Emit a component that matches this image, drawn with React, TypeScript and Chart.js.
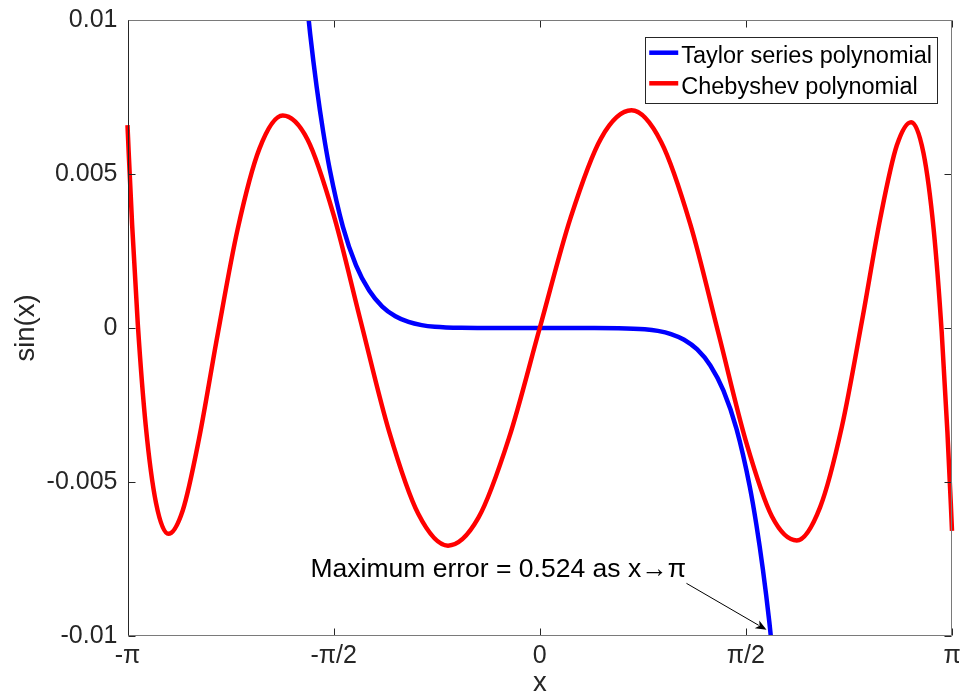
import React, { useEffect, useRef } from "react";
import { Chart, registerables } from "chart.js";

Chart.register(...registerables);

// ---------- data ----------
const xTickValues = [-Math.PI, -Math.PI / 2, 0, Math.PI / 2, Math.PI];
const xTickLabels = ["-π", "-π/2", "0", "π/2", "π"];
const yTickValues = [-0.01, -0.005, 0, 0.005, 0.01];
const yTickLabels = ["-0.01", "-0.005", "0", "0.005", "0.01"];

const seriesLabels = ["Taylor series polynomial", "Chebyshev polynomial"];

// Taylor-series polynomial error curve
const taylorX = [
  -1.85, -1.8, -1.75, -1.7, -1.65, -1.6, -1.5, -1.4, -1.3, -1.2, -1.1, -1.0, -0.9, -0.8, -0.6, -0.4, -0.2,
  0,
  0.2, 0.4, 0.6, 0.8, 0.9, 1.0, 1.1, 1.2, 1.3, 1.4, 1.5, 1.6, 1.65, 1.7, 1.75, 1.8, 1.85,
];
const taylorY = [
  0.014038, 0.011617, 0.009561, 0.007824, 0.006363, 0.005141, 0.003286, 0.002036, 0.001216, 0.000697, 0.00038,
  0.000196, 0.000094, 0.000041, 0.0000055, 0.0000003, 0,
  0,
  0, -0.0000003, -0.0000055, -0.000041, -0.000094, -0.000196, -0.00038, -0.000697, -0.001216, -0.002036,
  -0.003286, -0.005141, -0.006363, -0.007824, -0.009561, -0.011617, -0.014038,
];

// Chebyshev polynomial error curve
const chebX = [
  -3.14159, -3.1328, -3.10649, -3.06283, -3.00201, -2.92441, -2.83049, -2.7207, -2.5957, -2.45618, -2.30293,
  -2.13681, -1.95875, -1.76972, -1.5708, -1.36307, -1.14775, -0.92602, -0.69906, -0.46822, -0.23477,
  0,
  0.23477, 0.46822, 0.69906, 0.92602, 1.14775, 1.36307, 1.5708, 1.76972, 1.95875, 2.13681, 2.30293, 2.45618,
  2.5957, 2.7207, 2.83049, 2.92441, 3.00201, 3.06283, 3.10649, 3.1328, 3.14159,
];
const chebY = [
  0.006589, 0.005727, 0.003364, 0.000109, -0.003194, -0.005678, -0.006684, -0.005923, -0.003577, -0.000245,
  0.003194, 0.005814, 0.006896, 0.006119, 0.003671, 0.000196, -0.003364, -0.006032, -0.007066, -0.006168,
  -0.003577,
  0,
  0.003577, 0.006168, 0.007066, 0.006032, 0.003364, -0.000196, -0.003671, -0.006119, -0.006896, -0.005814,
  -0.003194, 0.000245, 0.003577, 0.005923, 0.006684, 0.005678, 0.003194, -0.000109, -0.003364, -0.005727,
  -0.006589,
];

// annotation (text anchor and arrow in data units)
const annotationText = "Maximum error = 0.524 as x→π";
const annotationAnchor = { x: -1.747, y: -0.00808 };
const arrowFrom = { x: 1.118, y: -0.00829 };
const arrowTo = { x: 1.728, y: -0.0098 };

const FONT = "'Liberation Sans', Arial, Helvetica, sans-serif";
const AXIS_COLOR = "#262626";

const labelFor = (values: number[], labels: string[], v: number) => {
  for (let i = 0; i < values.length; i++) if (Math.abs(values[i] - v) < 1e-9) return labels[i];
  return "";
};

const framePlugin = {
  id: "frame",
  afterDatasetsDraw(chart: any) {
    const { ctx, chartArea: a, scales } = chart;
    const L = Math.round(a.left) + 0.5;
    const R = Math.round(a.right) - 0.5;
    const T = Math.round(a.top) + 0.5;
    const B = Math.round(a.bottom) - 0.5;
    ctx.save();
    ctx.lineWidth = 1;
    // ticks (inward, all four sides)
    ctx.strokeStyle = AXIS_COLOR;
    const tl = 7;
    ctx.beginPath();
    xTickValues.forEach((v) => {
      const px = Math.round(scales.x.getPixelForValue(v)) + 0.5;
      ctx.moveTo(px, B);
      ctx.lineTo(px, B - tl);
      ctx.moveTo(px, T);
      ctx.lineTo(px, T + tl);
    });
    yTickValues.forEach((v) => {
      const py = Math.round(scales.y.getPixelForValue(v)) + 0.5;
      ctx.moveTo(L, py);
      ctx.lineTo(L + tl, py);
      ctx.moveTo(R, py);
      ctx.lineTo(R - tl, py);
    });
    ctx.stroke();
    // box
    ctx.strokeStyle = "#7a7a7a";
    ctx.beginPath();
    ctx.moveTo(L, T);
    ctx.lineTo(R, T);
    ctx.lineTo(R, B);
    ctx.lineTo(L, B);
    ctx.stroke();
    ctx.strokeStyle = AXIS_COLOR;
    ctx.beginPath();
    ctx.moveTo(L, T);
    ctx.lineTo(L, B);
    ctx.stroke();
    ctx.restore();
  },
  afterDraw(chart: any) {
    const { ctx, chartArea: a, scales } = chart;
    ctx.save();
    // ---- legend ----
    const fs = 23.5;
    ctx.font = `${fs}px ${FONT}`;
    const ds = chart.data.datasets;
    let tw = 0;
    ds.forEach((d: any) => (tw = Math.max(tw, ctx.measureText(d.label).width)));
    const w = 36 + tw + 5;
    const h = 65.5;
    const right = a.right - 15;
    const left = right - w;
    const top = a.top + 16.5;
    ctx.fillStyle = "#ffffff";
    ctx.fillRect(left, top, w, h);
    ctx.strokeStyle = AXIS_COLOR;
    ctx.lineWidth = 1;
    ctx.strokeRect(Math.round(left) + 0.5, Math.round(top) + 0.5, Math.round(w), Math.round(h));
    ds.forEach((d: any, i: number) => {
      const ly = top + 16.2 + i * 30.6;
      ctx.strokeStyle = d.borderColor;
      ctx.lineWidth = 4.5;
      ctx.beginPath();
      ctx.moveTo(left + 4, ly);
      ctx.lineTo(left + 33, ly);
      ctx.stroke();
      ctx.fillStyle = "#000000";
      ctx.textAlign = "left";
      ctx.textBaseline = "alphabetic";
      ctx.fillText(d.label, left + 36, ly + 10.6);
    });
    // ---- annotation ----
    ctx.font = `26.5px ${FONT}`;
    ctx.fillStyle = "#000000";
    ctx.textAlign = "left";
    ctx.textBaseline = "alphabetic";
    ctx.fillText(
      annotationText,
      scales.x.getPixelForValue(annotationAnchor.x),
      scales.y.getPixelForValue(annotationAnchor.y)
    );
    const x0 = scales.x.getPixelForValue(arrowFrom.x);
    const y0 = scales.y.getPixelForValue(arrowFrom.y);
    const x1 = scales.x.getPixelForValue(arrowTo.x);
    const y1 = scales.y.getPixelForValue(arrowTo.y);
    const ang = Math.atan2(y1 - y0, x1 - x0);
    const hl = 11;
    const hw = 4.5;
    const bx = x1 - hl * Math.cos(ang);
    const by = y1 - hl * Math.sin(ang);
    ctx.strokeStyle = "#000000";
    ctx.lineWidth = 1;
    ctx.beginPath();
    ctx.moveTo(x0, y0);
    ctx.lineTo(bx + 2 * Math.cos(ang), by + 2 * Math.sin(ang));
    ctx.stroke();
    ctx.fillStyle = "#000000";
    ctx.beginPath();
    ctx.moveTo(x1, y1);
    ctx.lineTo(bx - hw * Math.sin(ang), by + hw * Math.cos(ang));
    ctx.lineTo(bx + 3 * Math.cos(ang), by + 3 * Math.sin(ang));
    ctx.lineTo(bx + hw * Math.sin(ang), by - hw * Math.cos(ang));
    ctx.closePath();
    ctx.fill();
    ctx.restore();
  },
};

export default function App() {
  const canvasRef = useRef<HTMLCanvasElement | null>(null);

  useEffect(() => {
    const canvas = canvasRef.current;
    if (!canvas) return;
    const chart = new Chart(canvas, {
      type: "line",
      data: {
        datasets: [
          {
            label: seriesLabels[0],
            data: taylorX.map((x, i) => ({ x, y: taylorY[i] })),
            borderColor: "#0000ff",
            backgroundColor: "#0000ff",
            borderWidth: 4.5,
            pointRadius: 0,
            fill: false,
            cubicInterpolationMode: "monotone",
            order: 1,
            clip: { left: 0, right: 0, top: 0, bottom: 0 },
          },
          {
            label: seriesLabels[1],
            data: chebX.map((x, i) => ({ x, y: chebY[i] })),
            borderColor: "#ff0000",
            backgroundColor: "#ff0000",
            borderWidth: 4.5,
            pointRadius: 0,
            fill: false,
            cubicInterpolationMode: "monotone",
            order: 0,
            clip: { left: 3, right: 3, top: 0, bottom: 0 },
          },
        ],
      } as any,
      options: {
        animation: false,
        responsive: false,
        maintainAspectRatio: false,
        layout: { padding: { left: 0, right: 9, top: 20, bottom: 0 } },
        plugins: {
          legend: { display: false },
          tooltip: { enabled: false },
        },
        scales: {
          x: {
            type: "linear",
            min: -Math.PI,
            max: Math.PI,
            afterBuildTicks: (s: any) => {
              s.ticks = xTickValues.map((v) => ({ value: v }));
            },
            afterFit: (s: any) => {
              s.height = 60;
              s.paddingLeft = 0;
              s.paddingRight = 0;
              s.paddingTop = 0;
              s.paddingBottom = 0;
            },
            grid: { display: false, drawTicks: false },
            border: { display: false },
            ticks: {
              autoSkip: false,
              maxRotation: 0,
              padding: 5,
              color: AXIS_COLOR,
              font: { family: FONT, size: 25 },
              callback: (v: any) => labelFor(xTickValues, xTickLabels, Number(v)),
            },
            title: {
              display: true,
              text: "x",
              color: AXIS_COLOR,
              font: { family: FONT, size: 27.5, lineHeight: 0.94 },
              padding: { top: 0, bottom: 0 },
            },
          },
          y: {
            type: "linear",
            min: -0.01,
            max: 0.01,
            afterBuildTicks: (s: any) => {
              s.ticks = yTickValues.map((v) => ({ value: v }));
            },
            afterFit: (s: any) => {
              s.width = 127.5;
              s.paddingLeft = 0;
              s.paddingRight = 0;
              s.paddingTop = 0;
              s.paddingBottom = 0;
            },
            grid: { display: false, drawTicks: false },
            border: { display: false },
            ticks: {
              autoSkip: false,
              padding: 10,
              color: AXIS_COLOR,
              font: { family: FONT, size: 25 },
              callback: (v: any) => labelFor(yTickValues, yTickLabels, Number(v)),
            },
            title: {
              display: true,
              text: "sin(x)",
              color: AXIS_COLOR,
              font: { family: FONT, size: 27.5, lineHeight: 1.2 },
              padding: { top: 10, bottom: 0 },
            },
          },
        },
      } as any,
      plugins: [framePlugin],
    });
    return () => chart.destroy();
  }, []);

  return (
    <div style={{ position: "fixed", left: 0, top: 0, width: 961, height: 696, background: "#ffffff" }}>
      <canvas ref={canvasRef} width={961} height={696} style={{ display: "block", width: 961, height: 696 }} />
    </div>
  );
}
